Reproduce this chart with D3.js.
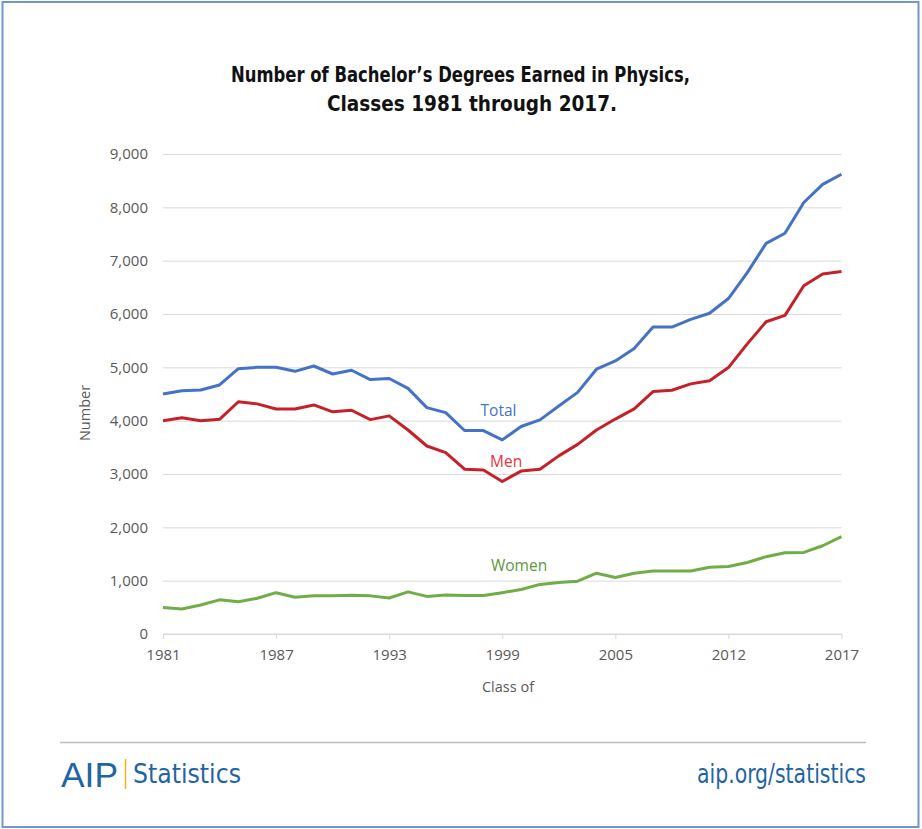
<!DOCTYPE html>
<html><head><meta charset="utf-8">
<script src="https://cdn.jsdelivr.net/npm/d3@7"></script>
<style>
html,body{margin:0;padding:0;background:#fff;}
svg{display:block;}
</style></head>
<body>
<svg id="chart" width="922" height="829"></svg>
<script>
// ---- data ----
const titleLines = ["Number of Bachelor\u2019s Degrees Earned in Physics,", "Classes 1981 through 2017."];
const categoryCount = 37; // classes plotted, one point each
const tickIndex = [0, 6, 12, 18, 24, 30, 36];
const tickLabels = ["1981", "1987", "1993", "1999", "2005", "2012", "2017"];
const yTicks = [0, 1000, 2000, 3000, 4000, 5000, 6000, 7000, 8000, 9000];

const totalValues = [4500, 4560, 4575, 4670, 4975, 5000, 5000, 4925, 5025, 4875, 4945, 4770, 4790, 4605, 4245, 4150, 3815, 3815, 3640, 3890, 4015, 4275, 4530, 4965, 5120, 5355, 5755, 5755, 5900, 6015, 6290, 6775, 7325, 7515, 8090, 8430, 8620];
const menValues   = [4000, 4055, 4000, 4025, 4355, 4315, 4220, 4220, 4295, 4165, 4195, 4020, 4090, 3825, 3525, 3400, 3090, 3075, 2860, 3055, 3090, 3340, 3555, 3825, 4030, 4220, 4545, 4570, 4690, 4750, 4995, 5440, 5855, 5975, 6530, 6750, 6795];
const womenValues = [495, 470, 545, 640, 605, 670, 775, 690, 715, 715, 725, 715, 675, 790, 705, 730, 720, 720, 775, 835, 930, 965, 990, 1140, 1060, 1140, 1180, 1180, 1180, 1250, 1265, 1340, 1450, 1525, 1530, 1655, 1825];

const seriesNames = ["Total", "Men", "Women"];
const seriesData = [totalValues, menValues, womenValues];
const lineColors = ["#4472C4", "#C62128", "#70AD47"];
const labelColors = ["#4472C4", "#E8363A", "#5E9A3A"];
// label anchor: index along x, value on y
const labelPos = [[16.85, 4090], [17.35, 3140], [17.4, 1185]];

// ---- layout ----
const svg = d3.select("#chart");
const M = {left: 163, right: 841.5, top: 154, bottom: 634};

const x = d3.scaleLinear().domain([0, categoryCount - 1]).range([M.left, M.right]);
const y = d3.scaleLinear().domain([0, 9000]).range([M.bottom, M.top]);

// border
svg.append("rect").attr("x", 2.5).attr("y", 2).attr("width", 916).attr("height", 825)
  .attr("fill", "none").attr("stroke", "#7097cb").attr("stroke-width", 2);

// title
const titleFont = "'Liberation Sans Narrow','DejaVu Sans Condensed','Roboto Condensed',sans-serif";
svg.append("text").attr("x", 231).attr("y", 81.5).text(titleLines[0])
  .attr("font-family", titleFont).attr("font-weight", "bold").attr("font-size", 22)
  .attr("fill", "#111").attr("textLength", 459).attr("lengthAdjust", "spacingAndGlyphs");
svg.append("text").attr("x", 327).attr("y", 111).text(titleLines[1])
  .attr("font-family", titleFont).attr("font-weight", "bold").attr("font-size", 22)
  .attr("fill", "#111").attr("textLength", 290).attr("lengthAdjust", "spacingAndGlyphs");

const axisFont = "'Open Sans','Noto Sans',sans-serif";

// y gridlines & labels
const yAxis = d3.axisLeft(y).tickValues(yTicks).tickSize(-(M.right - M.left))
  .tickPadding(15).tickFormat(d3.format(","));
const gy = svg.append("g").attr("transform", `translate(${M.left},0)`).call(yAxis);
gy.select(".domain").remove();
gy.selectAll(".tick line").attr("stroke", "#d9d9d9").attr("stroke-width", 1);
gy.selectAll(".tick text").attr("font-family", axisFont).attr("font-size", 15)
  .attr("fill", "#595959");

// x axis
const xAxis = d3.axisBottom(x).tickValues(tickIndex).tickSize(5).tickPadding(10)
  .tickFormat((d, i) => tickLabels[i]);
const gx = svg.append("g").attr("transform", `translate(0,${M.bottom})`).call(xAxis);
gx.select(".domain").attr("stroke", "#d9d9d9").attr("d", `M${M.left},0H${M.right}`);
gx.selectAll(".tick line").attr("stroke", "#d9d9d9");
gx.selectAll(".tick text").attr("font-family", axisFont).attr("font-size", 15)
  .attr("fill", "#595959");

// axis titles
svg.append("text").attr("x", 508).attr("y", 692).attr("text-anchor", "middle")
  .attr("font-family", axisFont).attr("font-size", 14.5).attr("fill", "#595959").text("Class of");
svg.append("text").attr("transform", "translate(90,413) rotate(-90)").attr("text-anchor", "middle")
  .attr("font-family", axisFont).attr("font-size", 14.5).attr("fill", "#595959").text("Number");

// lines
const line = d3.line().x((d, i) => x(i)).y(d => y(d));
seriesData.forEach((vals, k) => {
  svg.append("path").datum(vals).attr("d", line).attr("fill", "none")
    .attr("stroke", lineColors[k]).attr("stroke-width", 3).attr("stroke-linejoin", "round");
});

// series labels
seriesNames.forEach((n, k) => {
  svg.append("text").attr("x", x(labelPos[k][0])).attr("y", y(labelPos[k][1]))
    .attr("font-family", axisFont).attr("font-size", 15.5).attr("fill", labelColors[k]).text(n);
});

// footer
svg.append("line").attr("x1", 60).attr("x2", 866).attr("y1", 742.5).attr("y2", 742.5)
  .attr("stroke", "#bdbdbd").attr("stroke-width", 1.5);
const footFont = "'Liberation Sans Narrow','DejaVu Sans Condensed','Roboto Condensed',sans-serif";
svg.append("text").attr("x", 61).attr("y", 787).text("AIP")
  .attr("font-family", "'Liberation Sans','Arial',sans-serif").attr("font-size", 35)
  .attr("fill", "#1f65a3").attr("textLength", 57).attr("lengthAdjust", "spacingAndGlyphs");
svg.append("line").attr("x1", 125.5).attr("x2", 125.5).attr("y1", 759).attr("y2", 789)
  .attr("stroke", "#f2b01e").attr("stroke-width", 1.5);
svg.append("text").attr("x", 133).attr("y", 783).text("Statistics")
  .attr("font-family", footFont).attr("font-size", 27).attr("fill", "#1f65a3")
  .attr("textLength", 108).attr("lengthAdjust", "spacingAndGlyphs");
svg.append("text").attr("x", 866).attr("y", 783).attr("text-anchor", "end").text("aip.org/statistics")
  .attr("font-family", footFont).attr("font-size", 27).attr("fill", "#1f65a3")
  .attr("textLength", 169).attr("lengthAdjust", "spacingAndGlyphs");
</script>
</body></html>
